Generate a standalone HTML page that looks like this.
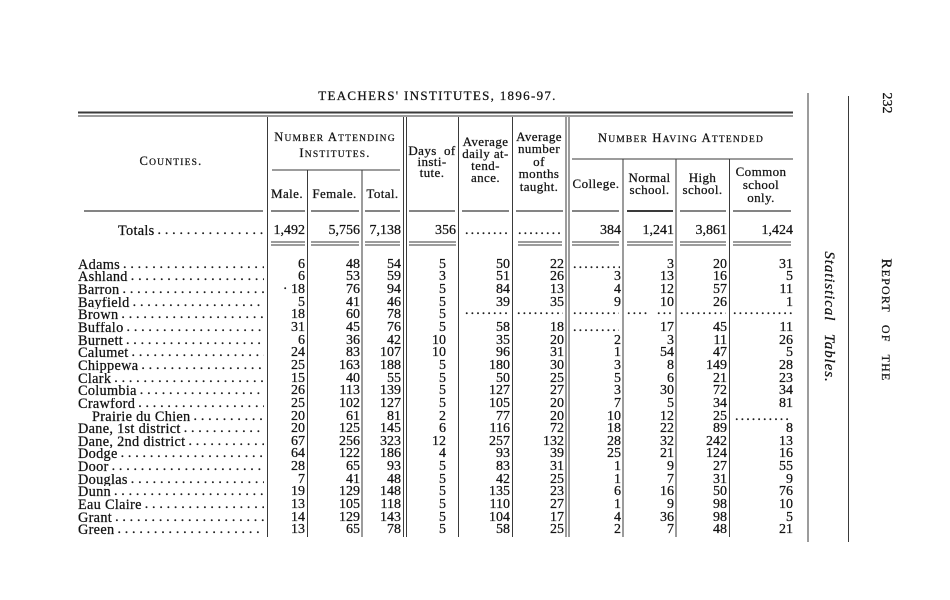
<!DOCTYPE html>
<html><head><meta charset="utf-8">
<style>
html,body{margin:0;padding:0;background:#fff;}
#pg{position:relative;width:950px;height:600px;overflow:hidden;background:#fff;font-family:"Liberation Serif",serif;color:#121212;-webkit-text-stroke:0.25px #121212;}
.t{position:absolute;white-space:nowrap;}
.h{position:absolute;text-align:center;font-size:13px;letter-spacing:0.4px;line-height:12px;white-space:nowrap;}
.sc{font-size:12.5px;letter-spacing:1.2px;}
.sc .s{font-size:9.5px;}
.r{position:absolute;left:0;width:950px;height:13px;line-height:12.65px;font-size:14px;}
.r .v{position:absolute;top:0;}
.a{right:645px}.b{right:590px}.c{right:549px}.d{right:504px}.e{right:440px}.f{right:386px}.g{right:329px}.h2{right:276px}.i{right:223px}.j{right:157px}
.n{position:absolute;left:78px;width:186px;top:0;display:flex;overflow:hidden;white-space:nowrap;letter-spacing:0.3px;font-size:14.3px;}
.n .l{flex:1;overflow:hidden;letter-spacing:3.8px;padding-left:3px;font-size:14px;}
.dt{position:absolute;top:0;overflow:hidden;white-space:nowrap;letter-spacing:2.1px;}
.up{top:-4px;}
svg{position:absolute;left:0;top:0;}
</style></head>
<body><div id="pg">
<svg width="950" height="600" viewBox="0 0 950 600">
<g stroke="#3a3a3a" fill="none">
<line x1="78" y1="112.5" x2="793" y2="112.5" stroke-width="2"/>
<line x1="78" y1="116" x2="793" y2="116" stroke-width="1"/>
<g stroke-width="1">
<line x1="267.5" y1="117" x2="267.5" y2="537"/>
<line x1="307.5" y1="170" x2="307.5" y2="537"/>
<line x1="362" y1="170" x2="362" y2="537"/>
<line x1="403.5" y1="117" x2="403.5" y2="537"/>
<line x1="406.5" y1="117" x2="406.5" y2="537"/>
<line x1="458.5" y1="117" x2="458.5" y2="537"/>
<line x1="512.5" y1="117" x2="512.5" y2="537"/>
<line x1="566" y1="117" x2="566" y2="537"/>
<line x1="569" y1="117" x2="569" y2="537"/>
<line x1="623" y1="159" x2="623" y2="537"/>
<line x1="676" y1="159" x2="676" y2="537"/>
<line x1="729.5" y1="159" x2="729.5" y2="537"/>
<line x1="808" y1="93" x2="808" y2="542"/>
<line x1="848.5" y1="96" x2="848.5" y2="542"/>
<line x1="272" y1="170" x2="400" y2="170"/>
<line x1="572" y1="159" x2="793" y2="159"/>
</g>
<g stroke-width="1.2">
<line x1="84" y1="211" x2="263" y2="211"/>
<line x1="271" y1="211" x2="305" y2="211"/>
<line x1="311" y1="211" x2="359" y2="211"/>
<line x1="365" y1="211" x2="400" y2="211"/>
<line x1="409" y1="211" x2="455" y2="211"/>
<line x1="462" y1="211" x2="509" y2="211"/>
<line x1="516" y1="211" x2="563" y2="211"/>
<line x1="572" y1="211" x2="619" y2="211"/>
<line x1="627" y1="211" x2="673" y2="211" stroke-width="2"/>
<line x1="680" y1="211" x2="726" y2="211"/>
<line x1="733" y1="211" x2="791" y2="211"/>
</g>
<g stroke-width="1">
<line x1="271" y1="242" x2="305" y2="242"/><line x1="271" y1="245" x2="305" y2="245"/>
<line x1="311" y1="242" x2="359" y2="242"/><line x1="311" y1="245" x2="359" y2="245"/>
<line x1="365" y1="242" x2="400" y2="242"/><line x1="365" y1="245" x2="400" y2="245"/>
<line x1="409" y1="242" x2="456" y2="242"/><line x1="409" y1="245" x2="456" y2="245"/>
<line x1="518" y1="242" x2="562" y2="242"/><line x1="518" y1="245" x2="562" y2="245"/>
<line x1="572" y1="242" x2="619" y2="242"/><line x1="572" y1="245" x2="619" y2="245"/>
<line x1="627" y1="242" x2="673" y2="242"/><line x1="627" y1="245" x2="673" y2="245"/>
<line x1="680" y1="242" x2="726" y2="242"/><line x1="680" y1="245" x2="726" y2="245"/>
<line x1="733" y1="242" x2="791" y2="242"/><line x1="733" y1="245" x2="791" y2="245"/>
</g>
</g>
</svg>

<div class="t" style="left:300px;width:275px;top:88px;line-height:16px;font-size:13px;letter-spacing:1.3px;text-align:center;">TEACHERS' INSTITUTES, 1896-97.</div>

<!-- rotated side texts -->
<div class="t" style="left:871px;top:94.5px;width:30px;height:16px;line-height:16px;font-size:14px;text-align:center;transform:rotate(90deg);">232</div>
<div class="t" style="left:816px;top:312px;width:140px;height:16px;line-height:16px;font-size:15px;letter-spacing:1.2px;word-spacing:7px;text-align:center;transform:rotate(90deg);">R<span style="font-size:12px">EPORT</span> <span style="font-size:12px">OF</span> <span style="font-size:12px">THE</span></div>
<div class="t" style="left:754px;top:309px;width:150px;height:16px;line-height:16px;font-size:15px;font-style:italic;letter-spacing:0.9px;word-spacing:8px;text-align:center;transform:rotate(90deg);">Statistical Tables.</div>

<!-- headers -->
<div class="h sc" style="left:78px;width:186px;top:154px;line-height:14px;letter-spacing:1.2px;font-size:12.5px;">C<span class="s">OUNTIES</span>.</div>
<div class="h sc" style="left:267px;width:136px;top:130px;line-height:14px;letter-spacing:1.2px;font-size:12.5px;">N<span class="s">UMBER</span> A<span class="s">TTENDING</span><br>I<span class="s">NSTITUTES</span>.</div>
<div class="h" style="left:267px;width:40px;top:188px;">Male.</div>
<div class="h" style="left:307px;width:55px;top:188px;">Female.</div>
<div class="h" style="left:362px;width:41px;top:188px;">Total.</div>
<div class="h" style="left:406px;width:52px;top:144.5px;line-height:11.2px;">Days&nbsp; of<br>insti-<br>tute.</div>
<div class="h" style="left:459px;width:53px;top:136px;line-height:12px;">Average<br>daily at-<br>tend-<br>ance.</div>
<div class="h" style="left:512px;width:54px;top:130.75px;line-height:12.5px;">Average<br>number<br>of<br>months<br>taught.</div>
<div class="h sc" style="left:569px;width:224px;top:131px;line-height:14px;letter-spacing:1.2px;font-size:12.5px;">N<span class="s">UMBER</span> H<span class="s">AVING</span> A<span class="s">TTENDED</span></div>
<div class="h" style="left:569px;width:54px;top:178px;">College.</div>
<div class="h" style="left:623px;width:53px;top:172px;">Normal<br>school.</div>
<div class="h" style="left:676px;width:53px;top:172px;">High<br>school.</div>
<div class="h" style="left:729px;width:64px;top:164.5px;line-height:13px;">Common<br>school<br>only.</div>

<!-- totals -->
<div class="r" style="top:224.5px;">
<div class="n" style="left:118px;width:146px;">Totals<span class="l">..................................................</span></div>
<span class="v a">1,492</span><span class="v b">5,756</span><span class="v c">7,138</span><span class="v" style="right:494px">356</span>
<span class="dt" style="left:465px;width:44px;">................</span><span class="dt" style="left:518px;width:45px;">................</span>
<span class="v g">384</span><span class="v h2">1,241</span><span class="v i">3,861</span><span class="v j">1,424</span>
</div>

<!-- data rows -->
<div class="r" style="top:258.7px;"><div class="n">Adams<span class="l">..................................................</span></div><span class="v a">6</span><span class="v b">48</span><span class="v c">54</span><span class="v d">5</span><span class="v e">50</span><span class="v f">22</span><span class="dt" style="left:573px;width:47px;">................</span><span class="v h2">3</span><span class="v i">20</span><span class="v j">31</span></div>
<div class="r" style="top:271.35px;"><div class="n">Ashland<span class="l">..................................................</span></div><span class="v a">6</span><span class="v b">53</span><span class="v c">59</span><span class="v d">3</span><span class="v e">51</span><span class="v f">26</span><span class="v g">3</span><span class="v h2">13</span><span class="v i">16</span><span class="v j">5</span></div>
<div class="r" style="top:284px;"><div class="n">Barron<span class="l">..................................................</span></div><span class="v a">&middot; 18</span><span class="v b">76</span><span class="v c">94</span><span class="v d">5</span><span class="v e">84</span><span class="v f">13</span><span class="v g">4</span><span class="v h2">12</span><span class="v i">57</span><span class="v j">11</span></div>
<div class="r" style="top:296.65px;"><div class="n">Bayfield<span class="l">..................................................</span></div><span class="v a">5</span><span class="v b">41</span><span class="v c">46</span><span class="v d">5</span><span class="v e">39</span><span class="v f">35</span><span class="v g">9</span><span class="v h2">10</span><span class="v i">26</span><span class="v j">1</span></div>
<div class="r" style="top:309.3px;"><div class="n">Brown<span class="l">..................................................</span></div><span class="v a">18</span><span class="v b">60</span><span class="v c">78</span><span class="v d">5</span><span class="dt up" style="left:465px;width:44px;">................</span><span class="dt up" style="left:517px;width:46px;">................</span><span class="dt up" style="left:573px;width:46px;">................</span><span class="dt up" style="left:627px;width:20px;">....</span><span class="dt up" style="left:657px;width:16px;">...</span><span class="dt up" style="left:680px;width:46px;">................</span><span class="dt up" style="left:733px;width:60px;">....................</span></div>
<div class="r" style="top:321.95px;"><div class="n">Buffalo<span class="l">..................................................</span></div><span class="v a">31</span><span class="v b">45</span><span class="v c">76</span><span class="v d">5</span><span class="v e">58</span><span class="v f">18</span><span class="dt" style="left:573px;width:46px;">................</span><span class="v h2">17</span><span class="v i">45</span><span class="v j">11</span></div>
<div class="r" style="top:334.6px;"><div class="n">Burnett<span class="l">..................................................</span></div><span class="v a">6</span><span class="v b">36</span><span class="v c">42</span><span class="v d">10</span><span class="v e">35</span><span class="v f">20</span><span class="v g">2</span><span class="v h2">3</span><span class="v i">11</span><span class="v j">26</span></div>
<div class="r" style="top:347.25px;"><div class="n">Calumet<span class="l">..................................................</span></div><span class="v a">24</span><span class="v b">83</span><span class="v c">107</span><span class="v d">10</span><span class="v e">96</span><span class="v f">31</span><span class="v g">1</span><span class="v h2">54</span><span class="v i">47</span><span class="v j">5</span></div>
<div class="r" style="top:359.9px;"><div class="n">Chippewa<span class="l">..................................................</span></div><span class="v a">25</span><span class="v b">163</span><span class="v c">188</span><span class="v d">5</span><span class="v e">180</span><span class="v f">30</span><span class="v g">3</span><span class="v h2">8</span><span class="v i">149</span><span class="v j">28</span></div>
<div class="r" style="top:372.55px;"><div class="n">Clark<span class="l">..................................................</span></div><span class="v a">15</span><span class="v b">40</span><span class="v c">55</span><span class="v d">5</span><span class="v e">50</span><span class="v f">25</span><span class="v g">5</span><span class="v h2">6</span><span class="v i">21</span><span class="v j">23</span></div>
<div class="r" style="top:385.2px;"><div class="n">Columbia<span class="l">..................................................</span></div><span class="v a">26</span><span class="v b">113</span><span class="v c">139</span><span class="v d">5</span><span class="v e">127</span><span class="v f">27</span><span class="v g">3</span><span class="v h2">30</span><span class="v i">72</span><span class="v j">34</span></div>
<div class="r" style="top:397.85px;"><div class="n">Crawford<span class="l">..................................................</span></div><span class="v a">25</span><span class="v b">102</span><span class="v c">127</span><span class="v d">5</span><span class="v e">105</span><span class="v f">20</span><span class="v g">7</span><span class="v h2">5</span><span class="v i">34</span><span class="v j">81</span></div>
<div class="r" style="top:410.5px;"><div class="n" style="left:92px;width:172px;">Prairie du Chien<span class="l">..................................................</span></div><span class="v a">20</span><span class="v b">61</span><span class="v c">81</span><span class="v d">2</span><span class="v e">77</span><span class="v f">20</span><span class="v g">10</span><span class="v h2">12</span><span class="v i">25</span><span class="dt" style="left:735px;width:56px;">....................</span></div>
<div class="r" style="top:423.15px;"><div class="n">Dane, 1st district<span class="l">..................................................</span></div><span class="v a">20</span><span class="v b">125</span><span class="v c">145</span><span class="v d">6</span><span class="v e">116</span><span class="v f">72</span><span class="v g">18</span><span class="v h2">22</span><span class="v i">89</span><span class="v j">8</span></div>
<div class="r" style="top:435.8px;"><div class="n">Dane, 2nd district<span class="l">..................................................</span></div><span class="v a">67</span><span class="v b">256</span><span class="v c">323</span><span class="v d">12</span><span class="v e">257</span><span class="v f">132</span><span class="v g">28</span><span class="v h2">32</span><span class="v i">242</span><span class="v j">13</span></div>
<div class="r" style="top:448.45px;"><div class="n">Dodge<span class="l">..................................................</span></div><span class="v a">64</span><span class="v b">122</span><span class="v c">186</span><span class="v d">4</span><span class="v e">93</span><span class="v f">39</span><span class="v g">25</span><span class="v h2">21</span><span class="v i">124</span><span class="v j">16</span></div>
<div class="r" style="top:461.1px;"><div class="n">Door<span class="l">..................................................</span></div><span class="v a">28</span><span class="v b">65</span><span class="v c">93</span><span class="v d">5</span><span class="v e">83</span><span class="v f">31</span><span class="v g">1</span><span class="v h2">9</span><span class="v i">27</span><span class="v j">55</span></div>
<div class="r" style="top:473.75px;"><div class="n">Douglas<span class="l">..................................................</span></div><span class="v a">7</span><span class="v b">41</span><span class="v c">48</span><span class="v d">5</span><span class="v e">42</span><span class="v f">25</span><span class="v g">1</span><span class="v h2">7</span><span class="v i">31</span><span class="v j">9</span></div>
<div class="r" style="top:486.4px;"><div class="n">Dunn<span class="l">..................................................</span></div><span class="v a">19</span><span class="v b">129</span><span class="v c">148</span><span class="v d">5</span><span class="v e">135</span><span class="v f">23</span><span class="v g">6</span><span class="v h2">16</span><span class="v i">50</span><span class="v j">76</span></div>
<div class="r" style="top:499.05px;"><div class="n">Eau Claire<span class="l">..................................................</span></div><span class="v a">13</span><span class="v b">105</span><span class="v c">118</span><span class="v d">5</span><span class="v e">110</span><span class="v f">27</span><span class="v g">1</span><span class="v h2">9</span><span class="v i">98</span><span class="v j">10</span></div>
<div class="r" style="top:511.7px;"><div class="n">Grant<span class="l">..................................................</span></div><span class="v a">14</span><span class="v b">129</span><span class="v c">143</span><span class="v d">5</span><span class="v e">104</span><span class="v f">17</span><span class="v g">4</span><span class="v h2">36</span><span class="v i">98</span><span class="v j">5</span></div>
<div class="r" style="top:524.35px;"><div class="n">Green<span class="l">..................................................</span></div><span class="v a">13</span><span class="v b">65</span><span class="v c">78</span><span class="v d">5</span><span class="v e">58</span><span class="v f">25</span><span class="v g">2</span><span class="v h2">7</span><span class="v i">48</span><span class="v j">21</span></div>

</div></body></html>
